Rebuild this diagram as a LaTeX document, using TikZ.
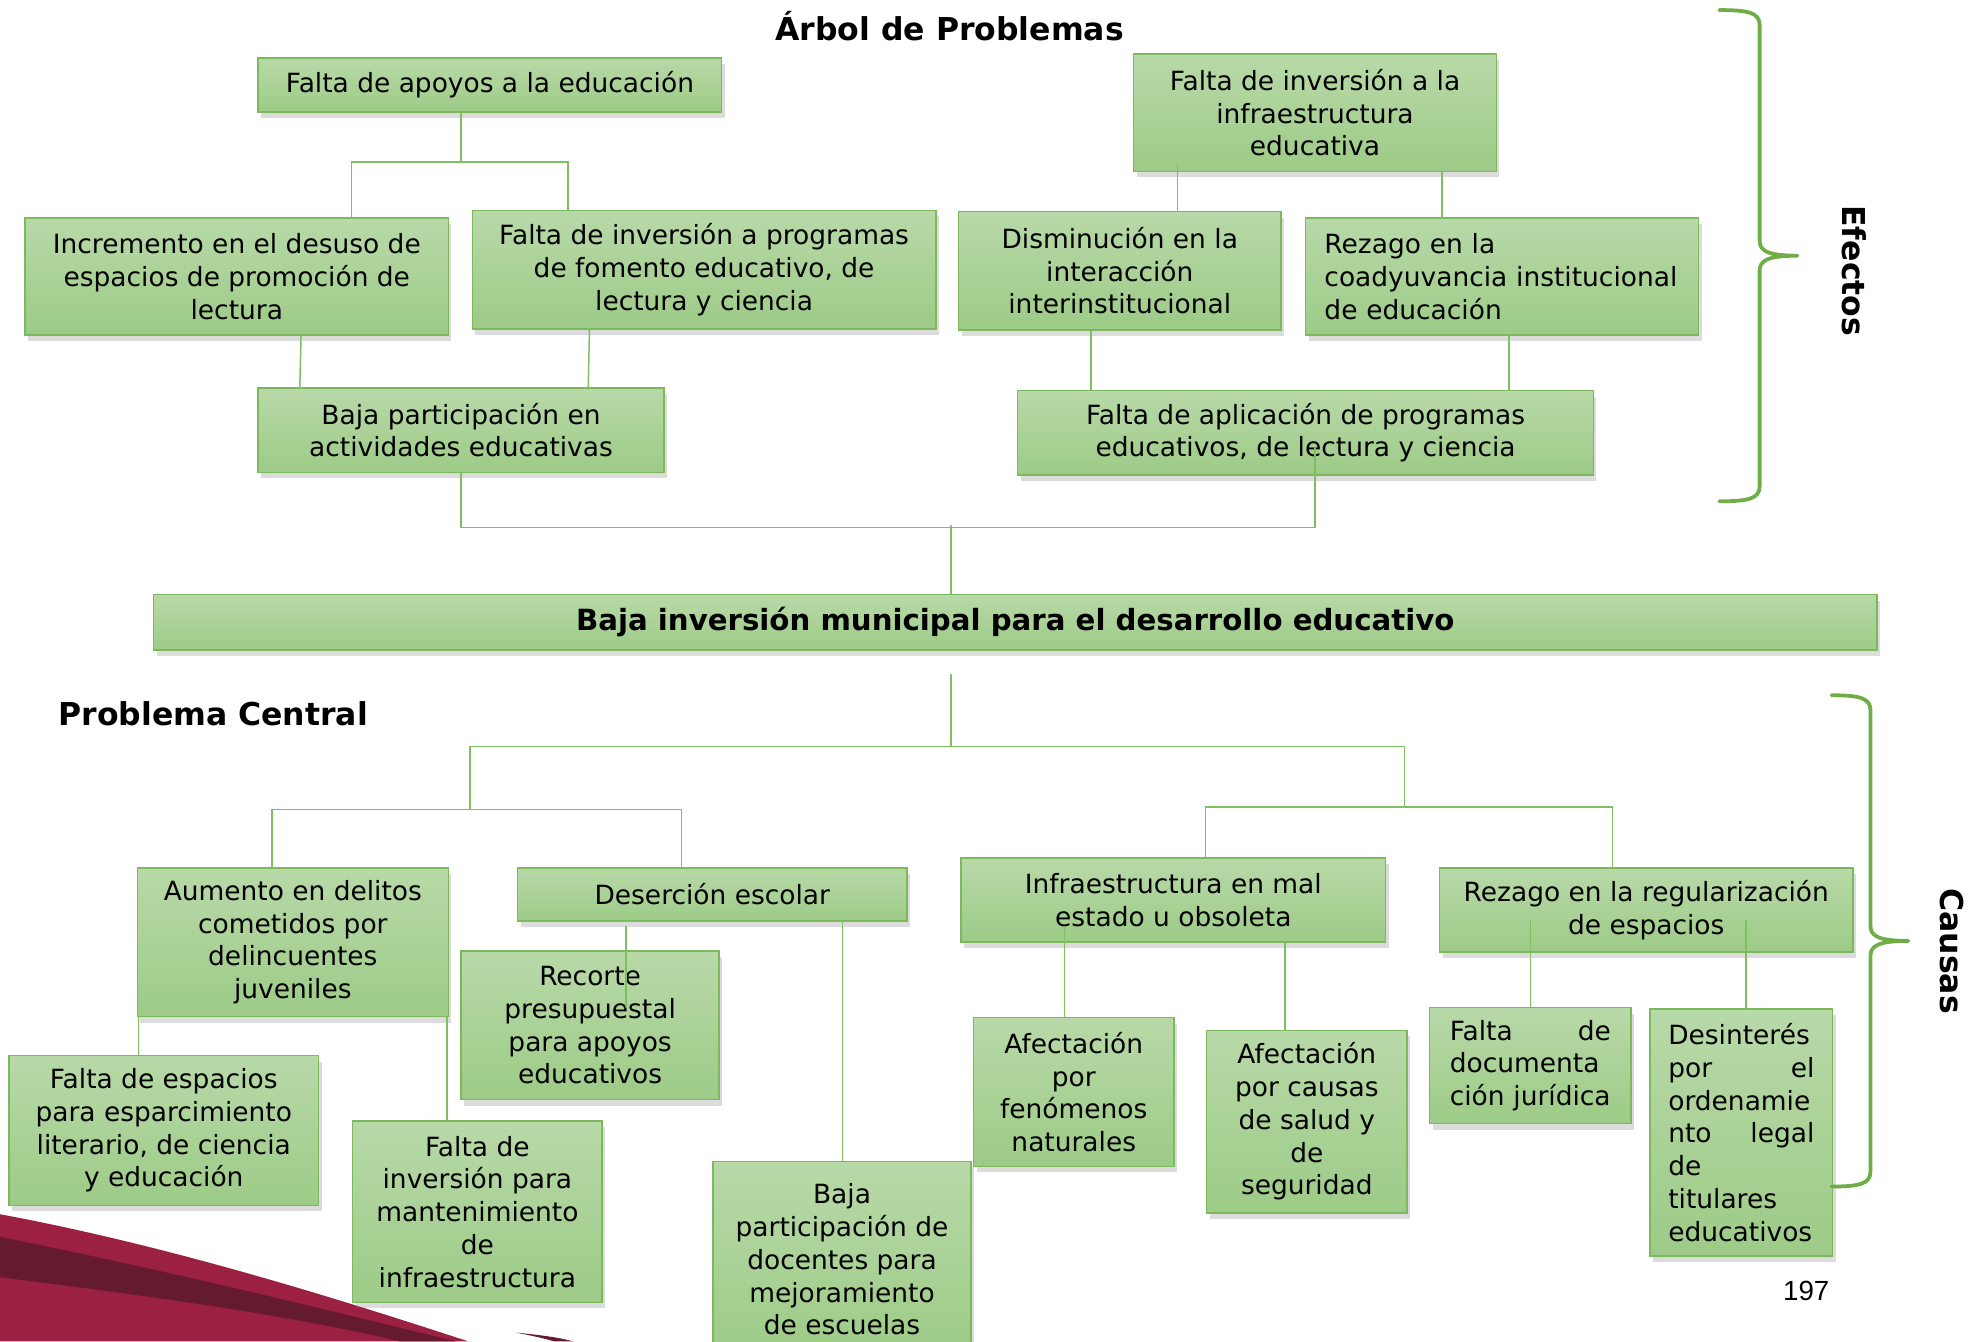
\documentclass[tikz,border=0pt]{standalone}
\usepackage{fontspec}
\setmainfont{DejaVu Sans}
\newfontfamily\pagefont{Liberation Sans}
\usetikzlibrary{calc,shadows}
\definecolor{boxtop}{RGB}{184,217,168}
\definecolor{boxbot}{RGB}{157,203,135}
\definecolor{boxline}{RGB}{124,184,92}
\definecolor{linkgreen}{RGB}{128,190,98}
\definecolor{bracegreen}{RGB}{112,173,71}
\definecolor{wine}{RGB}{155,32,66}
\definecolor{winedark}{RGB}{102,26,48}
\newcommand\jfill{\hskip 0pt plus 1fill\relax}

\begin{document}
\begin{tikzpicture}[x=0.5pt,y=-0.5pt,line cap=round,
  box/.style={draw=boxline,line width=0.6pt,top color=boxtop,bottom color=boxbot,
    drop shadow={shadow xshift=1.2pt,shadow yshift=-2.4pt,opacity=0.28},
    inner sep=0pt,align=center,font=\fontsize{10.5}{13}\selectfont},
  sz/.style 2 args={minimum width=#1*0.5pt,minimum height=#2*0.5pt},
  link/.style={draw=linkgreen,line width=0.6pt},
  brace/.style={draw=bracegreen,line width=1.5pt,line join=round},
  heading/.style={font=\bfseries\fontsize{12.5}{15}\selectfont}]
\useasboundingbox (0,0) rectangle (1568,1065);
\fill[wine] (0,964) .. controls (140,990) and (280,1035) .. (372,1065) -- (0,1065) -- cycle;
\fill[winedark] (0,982) .. controls (130,1008) and (260,1040) .. (362,1065) -- (318,1065) .. controls (220,1042) and (110,1028) .. (0,1014) -- cycle;
\fill[winedark] (410,1058) .. controls (430,1060) and (445,1062) .. (455,1065) -- (440,1065) .. controls (430,1062) and (420,1060) .. (410,1058) -- cycle;
\node[heading] (title) at (754,21) {Árbol de Problemas};
\node[box,sz={368}{43}] (A) at (389,67.5) {Falta de apoyos a la educación};
\node[box,sz={288}{93}] (B) at (1044,89.5) {Falta de inversión a la\\infraestructura\\educativa};
\node[box,sz={336}{93}] (C) at (188,219.5) {Incremento en el desuso de\\espacios de promoción de\\lectura};
\node[box,sz={368}{94}] (D) at (559,214) {Falta de inversión a programas\\de fomento educativo, de\\lectura y ciencia};
\node[box,sz={256}{94}] (E) at (889,215) {Disminución en la\\interacción\\interinstitucional};
\node[box,sz={311}{93},align=left,text width=141pt,inner xsep=7.5pt] (F) at (1192.5,219.5) {Rezago en la\\coadyuvancia institucional\\de educación};
\node[box,sz={322}{67}] (G) at (366,341.5) {Baja participación en\\actividades educativas};
\node[box,sz={457}{67}] (H) at (1036.5,343.5) {Falta de aplicación de programas\\educativos, de lectura y ciencia};
\node[box,sz={1368}{44},font=\bfseries\fontsize{11.6}{13}\selectfont] (CP) at (806,494) {Baja inversión municipal para el desarrollo educativo};
\node[heading,anchor=west,inner xsep=0pt] (central) at (46,567) {Problema Central};
\node[box,sz={247}{118}] (I) at (232.5,748) {Aumento en delitos\\cometidos por\\delincuentes\\juveniles};
\node[box,sz={309}{42}] (J) at (565.5,710) {Deserción escolar};
\node[box,sz={337}{67}] (K) at (931.5,714.5) {Infraestructura en mal\\estado u obsoleta};
\node[box,sz={328}{67}] (L) at (1307,722.5) {Rezago en la regularización\\de espacios};
\node[box,sz={246}{119}] (M) at (130,897.5) {Falta de espacios\\para esparcimiento\\literario, de ciencia\\y educación};
\node[box,sz={205}{118}] (N) at (468.5,814) {Recorte\\presupuestal\\para apoyos\\educativos};
\node[box,sz={198}{144}] (O) at (379,962) {Falta de\\inversión para\\mantenimiento\\de\\infraestructura};
\node[box,sz={205}{156}] (P) at (668.5,1000) {Baja\\participación de\\docentes para\\mejoramiento\\de escuelas};
\node[box,sz={159}{118}] (Q) at (852.5,867) {Afectación\\por\\fenómenos\\naturales};
\node[box,sz={159}{145}] (R) at (1037.5,890.5) {Afectación\\por causas\\de salud y\\de\\seguridad};
\node[box,sz={160}{92},align=left,text width=64pt,inner xsep=8pt] (S) at (1215,846) {Falta\jfill de\\documenta\\ción jurídica};
\node[box,sz={145}{196},align=left,text width=58pt,inner xsep=7.25pt] (T) at (1382.5,899) {Desinterés\\por\jfill el\\ordenamie\\nto\jfill legal\\de\\titulares\\educativos};
\draw[link] ($(A.south)+(-23,0)$) -- ($(A.south)+(-23,39)$);
\draw[link] ($(C.north)+(91,0)$) |- ($(A.south)+(-110,39)$) -| ($(D.north)+(-108,0)$);
\draw[link] ($(B.south)+(-109,-6)$) -- ($(E.north)+(46,0)$);
\draw[link] ($(B.south)+(101,0)$) -- ($(F.north)+(-47.5,0)$);
\draw[link] ($(C.south)+(51,0)$) -- ($(G.north)+(-128,0)$);
\draw[link] ($(D.south)+(-91,0)$) -- ($(G.north)+(101,0)$);
\draw[link] ($(E.south)+(-23,0)$) -- ($(H.north)+(-170.5,0)$);
\draw[link] ($(F.south)+(5.5,0)$) -- ($(H.north)+(161.5,0)$);
\draw[link] (G.south) |- ($(H.south)+(7.5,41)$) -- ($(H.south)+(7.5,-22)$);
\draw[link] ($(CP.north)+(-51,-54)$) -- ($(CP.north)+(-51,0)$);
\draw[link] ($(CP.south)+(-51,19)$) -- ($(CP.south)+(-51,76)$);
\draw[link] ($(CP.south)+(-433,126)$) |- ($(CP.south)+(-51,76)$) -| ($(CP.south)+(309,124)$);
\draw[link] ($(I.north)+(-16.5,0)$) |- ($(CP.south)+(-433,126)$) -| ($(J.north)+(-24.5,0)$);
\draw[link] ($(K.north)+(25.5,0)$) |- ($(CP.south)+(309,124)$) -| ($(L.north)+(-27,0)$);
\draw[link] ($(I.south)+(-122.5,0)$) -- ($(M.north)+(-20,0)$);
\draw[link] ($(I.south)+(122.5,0)$) -- ($(O.north)+(-24,0)$);
\draw[link] ($(J.south)+(-68.5,4)$) -- ($(N.north)+(28.5,45)$);
\draw[link] ($(J.south)+(103.5,0)$) -- ($(P.north)+(0.5,0)$);
\draw[link] ($(K.south)+(-86.5,-13)$) -- ($(Q.north)+(-7.5,0)$);
\draw[link] ($(K.south)+(88.5,0)$) -- ($(R.north)+(-17.5,0)$);
\draw[link] ($(L.south)+(-92,-26)$) -- ($(S.north)+(0,0)$);
\draw[link] ($(L.south)+(79,-26)$) -- ($(T.north)+(3.5,0)$);
\draw[brace] (1365,8) .. controls (1388,8) and (1397,10) .. (1397,20) -- (1397,191) .. controls (1397,199) and (1403,203) .. (1427,203) .. controls (1403,203) and (1397,207) .. (1397,215) -- (1397,386) .. controls (1397,396) and (1388,398) .. (1365,398);
\draw[brace] (1454,552) .. controls (1476,552) and (1485,554) .. (1485,564) -- (1485,735) .. controls (1485,743) and (1491,747) .. (1515,747) .. controls (1491,747) and (1485,751) .. (1485,759) -- (1485,930) .. controls (1485,940) and (1476,942) .. (1454,942);
\node[heading,rotate=-90] (efectos) at (1472,215) {Efectos};
\node[heading,rotate=-90] (causas) at (1550,755) {Causas};
\node[font=\pagefont\fontsize{11}{13}\selectfont] (page) at (1434,1025) {197};
\end{tikzpicture}
\end{document}
